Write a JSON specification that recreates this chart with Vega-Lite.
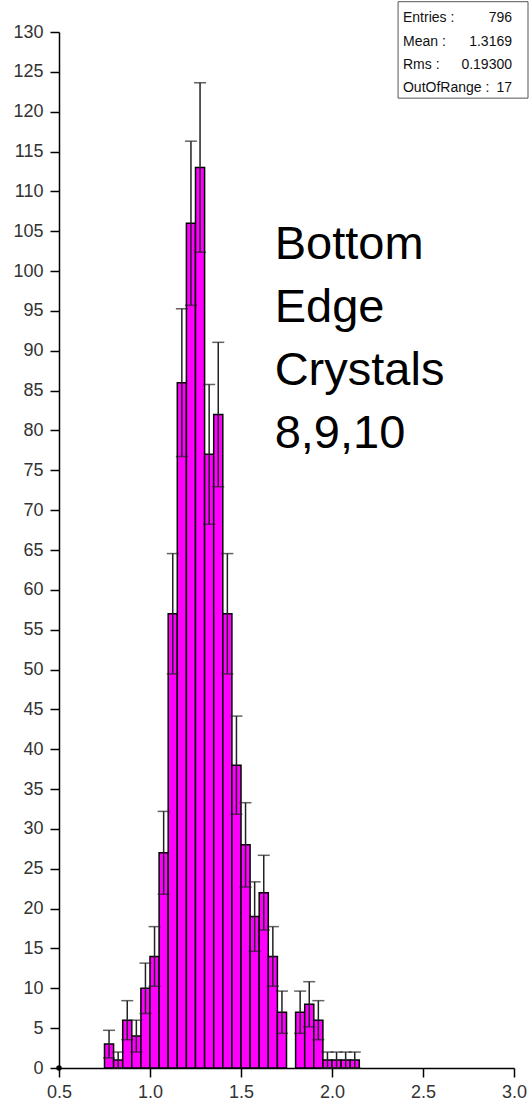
{
  "$schema": "https://vega.github.io/schema/vega-lite/v6.json",
  "width": 455,
  "height": 1036,
  "autosize": {"type": "none"},
  "padding": {"left": 59, "top": 32, "right": 17, "bottom": 37},
  "background": "white",
  "config": {
    "view": {"stroke": null},
    "font": "Liberation Sans",
    "axis": {
      "grid": false, "domainColor": "#000000", "domainWidth": 1.5,
      "tickColor": "#000000", "tickWidth": 1.5, "tickSize": 9,
      "labelFontSize": 18, "labelColor": "#333333",
      "labelFont": "Liberation Sans", "labelFlush": false, "labelOverlap": false
    }
  },
  "datasets": {
    "bins": [
      {"lo": 0.75, "hi": 0.80, "mid": 0.775, "count": 3, "elo": 1.27, "ehi": 4.73},
      {"lo": 0.80, "hi": 0.85, "mid": 0.825, "count": 1, "elo": 0, "ehi": 2},
      {"lo": 0.85, "hi": 0.90, "mid": 0.875, "count": 6, "elo": 3.55, "ehi": 8.45},
      {"lo": 0.90, "hi": 0.95, "mid": 0.925, "count": 4, "elo": 2, "ehi": 6},
      {"lo": 0.95, "hi": 1.00, "mid": 0.975, "count": 10, "elo": 6.84, "ehi": 13.16},
      {"lo": 1.00, "hi": 1.05, "mid": 1.025, "count": 14, "elo": 10.26, "ehi": 17.74},
      {"lo": 1.05, "hi": 1.10, "mid": 1.075, "count": 27, "elo": 21.8, "ehi": 32.2},
      {"lo": 1.10, "hi": 1.15, "mid": 1.125, "count": 57, "elo": 49.45, "ehi": 64.55},
      {"lo": 1.15, "hi": 1.20, "mid": 1.175, "count": 86, "elo": 76.73, "ehi": 95.27},
      {"lo": 1.20, "hi": 1.25, "mid": 1.225, "count": 106, "elo": 95.7, "ehi": 116.3},
      {"lo": 1.25, "hi": 1.30, "mid": 1.275, "count": 113, "elo": 102.37, "ehi": 123.63},
      {"lo": 1.30, "hi": 1.35, "mid": 1.325, "count": 77, "elo": 68.23, "ehi": 85.77},
      {"lo": 1.35, "hi": 1.40, "mid": 1.375, "count": 82, "elo": 72.94, "ehi": 91.06},
      {"lo": 1.40, "hi": 1.45, "mid": 1.425, "count": 57, "elo": 49.45, "ehi": 64.55},
      {"lo": 1.45, "hi": 1.50, "mid": 1.475, "count": 38, "elo": 31.84, "ehi": 44.16},
      {"lo": 1.50, "hi": 1.55, "mid": 1.525, "count": 28, "elo": 22.71, "ehi": 33.29},
      {"lo": 1.55, "hi": 1.60, "mid": 1.575, "count": 19, "elo": 14.64, "ehi": 23.36},
      {"lo": 1.60, "hi": 1.65, "mid": 1.625, "count": 22, "elo": 17.31, "ehi": 26.69},
      {"lo": 1.65, "hi": 1.70, "mid": 1.675, "count": 14, "elo": 10.26, "ehi": 17.74},
      {"lo": 1.70, "hi": 1.75, "mid": 1.725, "count": 7, "elo": 4.35, "ehi": 9.65},
      {"lo": 1.80, "hi": 1.85, "mid": 1.825, "count": 7, "elo": 4.35, "ehi": 9.65},
      {"lo": 1.85, "hi": 1.90, "mid": 1.875, "count": 8, "elo": 5.17, "ehi": 10.83},
      {"lo": 1.90, "hi": 1.95, "mid": 1.925, "count": 6, "elo": 3.55, "ehi": 8.45},
      {"lo": 1.95, "hi": 2.00, "mid": 1.975, "count": 1, "elo": 0, "ehi": 2},
      {"lo": 2.00, "hi": 2.05, "mid": 2.025, "count": 1, "elo": 0, "ehi": 2},
      {"lo": 2.05, "hi": 2.10, "mid": 2.075, "count": 1, "elo": 0, "ehi": 2},
      {"lo": 2.10, "hi": 2.15, "mid": 2.125, "count": 1, "elo": 0, "ehi": 2}
    ],
    "origin": [{"x": 0.5, "y": 0}],
    "note": [{"x": 1.685, "y": 101.5, "t": ["Bottom", "Edge", "Crystals", "8,9,10"]}],
    "box": [{"x": 2.363, "x2": 3.077, "y": 133.8, "y2": 121.7}],
    "stats": [
      {"label": "Entries :", "value": "796", "lx": 2.39, "vx": 2.989, "y": 131.7},
      {"label": "Mean :", "value": "1.3169", "lx": 2.39, "vx": 2.989, "y": 128.8},
      {"label": "Rms :", "value": "0.19300", "lx": 2.39, "vx": 2.989, "y": 125.9},
      {"label": "OutOfRange :", "value": "17", "lx": 2.39, "vx": 2.989, "y": 123.0}
    ]
  },
  "layer": [
    {
      "data": {"name": "bins"},
      "mark": {"type": "rect", "fill": "#ff00ff", "stroke": "#000000", "strokeWidth": 1.5},
      "encoding": {
        "x": {
          "field": "lo", "type": "quantitative",
          "scale": {"domain": [0.5, 3.0], "nice": false, "zero": false},
          "axis": {"title": null, "values": [0.5, 1.0, 1.5, 2.0, 2.5, 3.0], "format": ".1f", "labelPadding": 6}
        },
        "x2": {"field": "hi"},
        "y": {
          "field": "count", "type": "quantitative",
          "scale": {"domain": [0, 130], "nice": false},
          "axis": {
            "title": null, "labelPadding": 7, "format": "d",
            "values": [0, 5, 10, 15, 20, 25, 30, 35, 40, 45, 50, 55, 60, 65, 70, 75, 80, 85, 90, 95, 100, 105, 110, 115, 120, 125, 130]
          }
        },
        "y2": {"datum": 0}
      }
    },
    {
      "data": {"name": "bins"},
      "mark": {"type": "rule", "color": "#222222", "strokeWidth": 1.5},
      "encoding": {
        "x": {"field": "mid", "type": "quantitative",
          "axis": {"title": null, "values": [0.5, 1.0, 1.5, 2.0, 2.5, 3.0], "format": ".1f", "labelPadding": 6}},
        "y": {"field": "elo", "type": "quantitative",
          "axis": {
            "title": null, "labelPadding": 7, "format": "d",
            "values": [0, 5, 10, 15, 20, 25, 30, 35, 40, 45, 50, 55, 60, 65, 70, 75, 80, 85, 90, 95, 100, 105, 110, 115, 120, 125, 130]
          }},
        "y2": {"field": "ehi"}
      }
    },
    {
      "data": {"name": "bins"},
      "mark": {"type": "tick", "orient": "horizontal", "color": "#222222", "size": 12, "thickness": 1.5},
      "encoding": {
        "x": {"field": "mid", "type": "quantitative",
          "axis": {"title": null, "values": [0.5, 1.0, 1.5, 2.0, 2.5, 3.0], "format": ".1f", "labelPadding": 6}},
        "y": {"field": "ehi", "type": "quantitative",
          "axis": {
            "title": null, "labelPadding": 7, "format": "d",
            "values": [0, 5, 10, 15, 20, 25, 30, 35, 40, 45, 50, 55, 60, 65, 70, 75, 80, 85, 90, 95, 100, 105, 110, 115, 120, 125, 130]
          }}
      }
    },
    {
      "data": {"name": "bins"},
      "mark": {"type": "tick", "orient": "horizontal", "color": "#222222", "size": 12, "thickness": 1.5},
      "encoding": {
        "x": {"field": "mid", "type": "quantitative",
          "axis": {"title": null, "values": [0.5, 1.0, 1.5, 2.0, 2.5, 3.0], "format": ".1f", "labelPadding": 6}},
        "y": {"field": "elo", "type": "quantitative",
          "axis": {
            "title": null, "labelPadding": 7, "format": "d",
            "values": [0, 5, 10, 15, 20, 25, 30, 35, 40, 45, 50, 55, 60, 65, 70, 75, 80, 85, 90, 95, 100, 105, 110, 115, 120, 125, 130]
          }}
      }
    },
    {
      "data": {"name": "origin"},
      "mark": {"type": "point", "filled": true, "color": "#000000", "size": 30, "opacity": 1},
      "encoding": {
        "x": {"field": "x", "type": "quantitative",
          "axis": {"title": null, "values": [0.5, 1.0, 1.5, 2.0, 2.5, 3.0], "format": ".1f", "labelPadding": 6}},
        "y": {"field": "y", "type": "quantitative",
          "axis": {
            "title": null, "labelPadding": 7, "format": "d",
            "values": [0, 5, 10, 15, 20, 25, 30, 35, 40, 45, 50, 55, 60, 65, 70, 75, 80, 85, 90, 95, 100, 105, 110, 115, 120, 125, 130]
          }}
      }
    },
    {
      "data": {"name": "note"},
      "mark": {"type": "text", "align": "left", "baseline": "alphabetic", "fontSize": 47, "lineHeight": 63, "color": "#000000", "font": "Liberation Sans"},
      "encoding": {
        "x": {"field": "x", "type": "quantitative",
          "axis": {"title": null, "values": [0.5, 1.0, 1.5, 2.0, 2.5, 3.0], "format": ".1f", "labelPadding": 6}},
        "y": {"field": "y", "type": "quantitative",
          "axis": {
            "title": null, "labelPadding": 7, "format": "d",
            "values": [0, 5, 10, 15, 20, 25, 30, 35, 40, 45, 50, 55, 60, 65, 70, 75, 80, 85, 90, 95, 100, 105, 110, 115, 120, 125, 130]
          }},
        "text": {"field": "t"}
      }
    },
    {
      "data": {"name": "box"},
      "mark": {"type": "rect", "fill": "#ffffff", "stroke": "#555555", "strokeWidth": 1},
      "encoding": {
        "x": {"field": "x", "type": "quantitative",
          "axis": {"title": null, "values": [0.5, 1.0, 1.5, 2.0, 2.5, 3.0], "format": ".1f", "labelPadding": 6}},
        "x2": {"field": "x2"},
        "y": {"field": "y", "type": "quantitative",
          "axis": {
            "title": null, "labelPadding": 7, "format": "d",
            "values": [0, 5, 10, 15, 20, 25, 30, 35, 40, 45, 50, 55, 60, 65, 70, 75, 80, 85, 90, 95, 100, 105, 110, 115, 120, 125, 130]
          }},
        "y2": {"field": "y2"}
      }
    },
    {
      "data": {"name": "stats"},
      "mark": {"type": "text", "align": "left", "baseline": "middle", "fontSize": 14, "color": "#111111", "font": "Liberation Sans"},
      "encoding": {
        "x": {"field": "lx", "type": "quantitative",
          "axis": {"title": null, "values": [0.5, 1.0, 1.5, 2.0, 2.5, 3.0], "format": ".1f", "labelPadding": 6}},
        "y": {"field": "y", "type": "quantitative",
          "axis": {
            "title": null, "labelPadding": 7, "format": "d",
            "values": [0, 5, 10, 15, 20, 25, 30, 35, 40, 45, 50, 55, 60, 65, 70, 75, 80, 85, 90, 95, 100, 105, 110, 115, 120, 125, 130]
          }},
        "text": {"field": "label"}
      }
    },
    {
      "data": {"name": "stats"},
      "mark": {"type": "text", "align": "right", "baseline": "middle", "fontSize": 14, "color": "#111111", "font": "Liberation Sans"},
      "encoding": {
        "x": {"field": "vx", "type": "quantitative",
          "axis": {"title": null, "values": [0.5, 1.0, 1.5, 2.0, 2.5, 3.0], "format": ".1f", "labelPadding": 6}},
        "y": {"field": "y", "type": "quantitative",
          "axis": {
            "title": null, "labelPadding": 7, "format": "d",
            "values": [0, 5, 10, 15, 20, 25, 30, 35, 40, 45, 50, 55, 60, 65, 70, 75, 80, 85, 90, 95, 100, 105, 110, 115, 120, 125, 130]
          }},
        "text": {"field": "value"}
      }
    }
  ]
}
